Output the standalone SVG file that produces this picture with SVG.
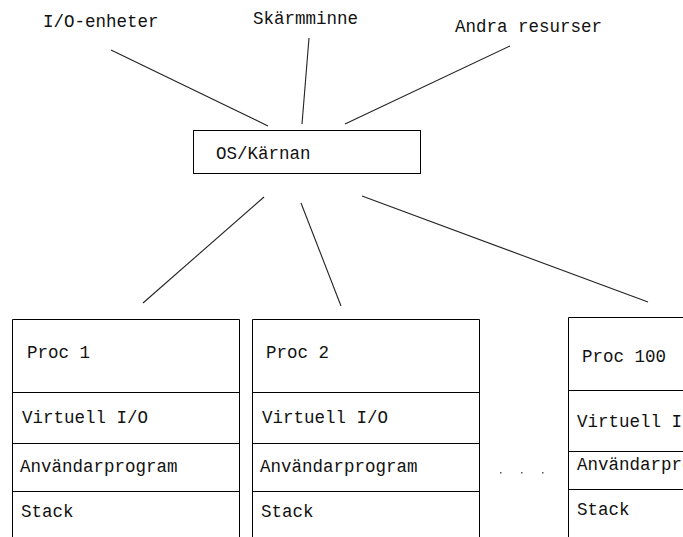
<svg xmlns="http://www.w3.org/2000/svg" width="683" height="537" viewBox="0 0 683 537">
  <style>
    text { font-family: "Liberation Mono", "DejaVu Sans Mono", monospace; font-size: 17.5px; fill: #111; }
    .box { fill: #fff; stroke: #000; stroke-width: 1; }
    .div { stroke: #000; stroke-width: 1; }
    .link { stroke: #222; stroke-width: 1.1; fill: none; }
    .dot { fill: #555; }
  </style>
  <rect width="683" height="537" fill="#fff"/>

  <!-- connectors -->
  <g id="connectors">
    <line class="link" x1="111" y1="50" x2="268" y2="126"/>
    <line class="link" x1="309" y1="38" x2="302" y2="124"/>
    <line class="link" x1="510" y1="46" x2="345" y2="124"/>
    <line class="link" x1="264" y1="197" x2="143" y2="303"/>
    <line class="link" x1="301" y1="203" x2="341" y2="306"/>
    <line class="link" x1="362" y1="196" x2="648" y2="302"/>
  </g>

  <!-- resources -->
  <g id="io-enheter"><text x="43" y="27">I/O-enheter</text></g>
  <g id="skarmminne"><text x="253" y="24">Skärmminne</text></g>
  <g id="andra-resurser"><text x="455" y="32">Andra resurser</text></g>

  <!-- kernel -->
  <g id="kernel">
    <rect class="box" x="193.5" y="130.5" width="227" height="43"/>
    <text x="216" y="159">OS/Kärnan</text>
  </g>

  <!-- processes -->
  <g id="proc1">
    <path class="box" d="M12.5 537 V319.5 H239.5 V537"/>
    <line class="div" x1="12" y1="392.5" x2="240" y2="392.5"/>
    <line class="div" x1="12" y1="443.5" x2="240" y2="443.5"/>
    <line class="div" x1="12" y1="491.5" x2="240" y2="491.5"/>
    <text x="27" y="358">Proc 1</text>
    <text x="22" y="423">Virtuell I/O</text>
    <text x="20" y="472">Användarprogram</text>
    <text x="21" y="517">Stack</text>
  </g>

  <g id="proc2">
    <path class="box" d="M252.5 537 V319.5 H479.5 V537"/>
    <line class="div" x1="252" y1="392.5" x2="480" y2="392.5"/>
    <line class="div" x1="252" y1="443.5" x2="480" y2="443.5"/>
    <line class="div" x1="252" y1="491.5" x2="480" y2="491.5"/>
    <text x="266" y="358">Proc 2</text>
    <text x="262" y="423">Virtuell I/O</text>
    <text x="260" y="472">Användarprogram</text>
    <text x="261" y="517">Stack</text>
  </g>

  <g id="ellipsis">
    <rect class="dot" x="500" y="472" width="1.5" height="1.5"/>
    <rect class="dot" x="521" y="472" width="1.5" height="1.5"/>
    <rect class="dot" x="542" y="472" width="1.5" height="1.5"/>
  </g>

  <g id="proc100">
    <path class="box" d="M568.5 537 V317.5 H700"/>
    <line class="div" x1="568" y1="390.5" x2="683" y2="390.5"/>
    <line class="div" x1="568" y1="451.5" x2="683" y2="451.5"/>
    <line class="div" x1="568" y1="489.5" x2="683" y2="489.5"/>
    <text x="582" y="362">Proc 100</text>
    <text x="577" y="427">Virtuell I/O</text>
    <text x="577" y="470">Användarprogram</text>
    <text x="577" y="515">Stack</text>
  </g>
</svg>
